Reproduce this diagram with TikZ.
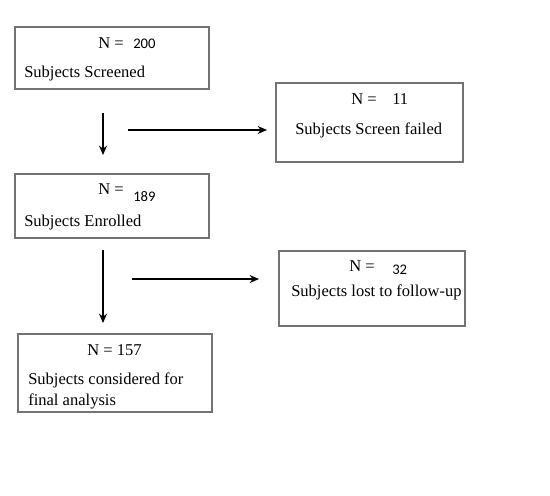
\documentclass[tikz,border=0pt]{standalone}
\usepackage{fontspec}
\setmainfont{Liberation Serif}
\newfontfamily\numfont{Carlito}
\usetikzlibrary{arrows.meta}
\begin{document}
\begin{tikzpicture}[x=0.75pt, y=-0.75pt, >={Stealth[length=7pt,width=6pt]},
    flowbox/.style={draw=black!55, line width=0.9pt, inner sep=0pt},
    txt/.style={anchor=base west, inner sep=0pt, font=\fontsize{12.4}{14}\selectfont},
    num/.style={anchor=base west, inner sep=0pt, font=\numfont\fontsize{11}{13}\selectfont},
    flow/.style={->, line width=1.2pt}]
  \useasboundingbox (0,0) rectangle (550,496);
  % boxes
  \node[flowbox, minimum width=194*0.75pt, minimum height=62*0.75pt] (screened) at (112,58) {};
  \node[flowbox, minimum width=187*0.75pt, minimum height=79*0.75pt] (failed) at (369.5,122.5) {};
  \node[flowbox, minimum width=194*0.75pt, minimum height=64*0.75pt] (enrolled) at (112,206) {};
  \node[flowbox, minimum width=186*0.75pt, minimum height=75*0.75pt] (lost) at (372,288.5) {};
  \node[flowbox, minimum width=194*0.75pt, minimum height=78*0.75pt] (final) at (115,373) {};
  % texts
  \node[txt] (nscr) at (98,48) {N =};
  \node[num] (vscr) at (133,48) {200};
  \node[txt] (lscr) at (24,77.5) {Subjects Screened};
  \node[txt] (nfail) at (351,104.5) {N =};
  \node[txt] (vfail) at (392,104.5) {11};
  \node[txt] (lfail) at (295,134.5) {Subjects Screen failed};
  \node[txt] (nenr) at (98,194) {N =};
  \node[num] (venr) at (133,201.5) {189};
  \node[txt] (lenr) at (24,226.5) {Subjects Enrolled};
  \node[txt] (nlost) at (349,271) {N =};
  \node[num] (vlost) at (392,274) {32};
  \node[txt] (llost) at (291,296.5) {Subjects lost to follow-up};
  \node[txt] (nfin) at (87,355.5) {N = 157};
  \node[txt] (lfin) at (28,384.5) {Subjects considered for};
  \node[txt] (lfin2) at (28,405) {final analysis};
  % arrows
  \coordinate (d1a) at (103,113);
  \coordinate (d1b) at (103,155);
  \coordinate (r1a) at (128,130);
  \coordinate (r1b) at (267,130);
  \coordinate (d2a) at (103,250);
  \coordinate (d2b) at (103,323);
  \coordinate (r2a) at (132,279);
  \coordinate (r2b) at (259,279);
  \draw[flow] (d1a) -- (d1b);
  \draw[flow] (r1a) -- (r1b);
  \draw[flow] (d2a) -- (d2b);
  \draw[flow] (r2a) -- (r2b);
\end{tikzpicture}
\end{document}
